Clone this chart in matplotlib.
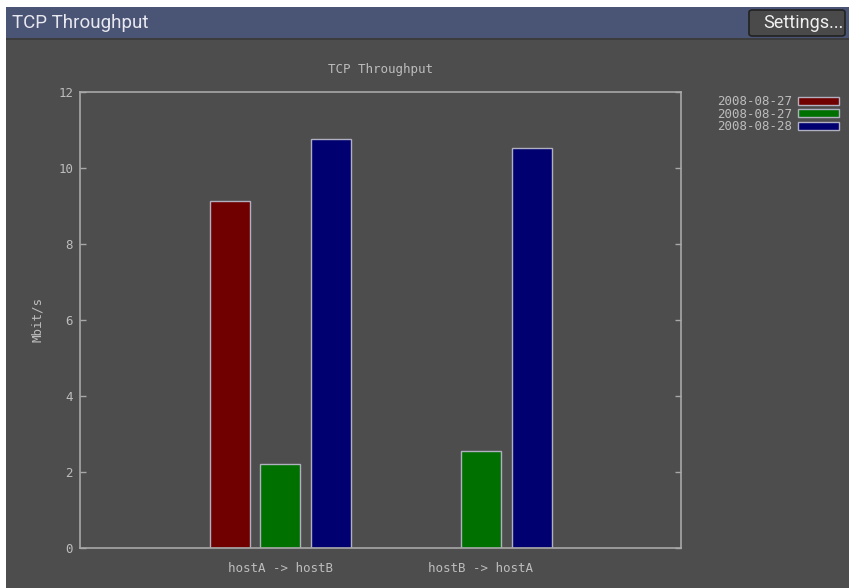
import numpy as np
import matplotlib
matplotlib.use("Agg")
import matplotlib.pyplot as plt
from matplotlib.patches import Rectangle, FancyBboxPatch

# data
categories = ["hostA -> hostB", "hostB -> hostA"]
series_labels = ["2008-08-27", "2008-08-27", "2008-08-28"]
series_values = [
    [9.13, np.nan],
    [2.21, 2.55],
    [10.76, 10.53],
]
series_colors = ["#700000", "#007000", "#000070"]
yticks = [0, 2, 4, 6, 8, 10, 12]

W, H = 849, 588
bg = "#4d4d4d"
fg = "#bdbdbd"
axcol = "#a8a8a8"
mono = "DejaVu Sans Mono"

fig = plt.figure(figsize=(W / 100, H / 100), dpi=100)
fig.patch.set_facecolor("white")

# dark panel and header bar
fig.patches.append(Rectangle((6 / W, 0), 1, (H - 7) / H, transform=fig.transFigure,
                             facecolor=bg, edgecolor="none", zorder=-5))
fig.patches.append(Rectangle((6 / W, (H - 38) / H), 1, 31 / H, transform=fig.transFigure,
                             facecolor="#4a5474", edgecolor="none", zorder=-4))
fig.patches.append(Rectangle((6 / W, (H - 40) / H), 1, 2 / H, transform=fig.transFigure,
                             facecolor="#3c3c3c", edgecolor="none", zorder=-4))
fig.text(12 / W, (H - 23) / H, "TCP Throughput", color="#e8e8f0", fontsize=13.5,
         family="Roboto", va="center", ha="left")
fig.patches.append(FancyBboxPatch((749 / W, (H - 36) / H), 96 / W, 26 / H,
                                  boxstyle="round,pad=0,rounding_size=0.004",
                                  transform=fig.transFigure, facecolor="#4a4a4a",
                                  edgecolor="#222222", linewidth=1.2, zorder=-3))
fig.text(803 / W, (H - 23) / H, "Settings...", color="#f0f0f0", fontsize=13,
         family="Roboto", va="center", ha="center")

ax = fig.add_axes([80 / W, (H - 548) / H, 601 / W, 456 / H])
ax.set_facecolor(bg)

x = np.arange(len(categories))
offsets = [-0.25, 0.0, 0.255]
for vals, lab, col, off in zip(series_values, series_labels, series_colors, offsets):
    ax.bar(x + off, vals, width=0.2, color=col, edgecolor="#b0b0c0",
           linewidth=1.0, label=lab)

ax.set_xlim(-1, 2)
ax.set_ylim(0, 12)
ax.set_yticks(yticks)
ax.set_xticks(x)
ax.set_xticklabels(categories)
ax.tick_params(axis="x", length=0, pad=10, colors=fg, labelsize=9)
ax.tick_params(axis="y", direction="in", length=4, width=1, color=axcol,
               right=True, pad=5, labelcolor=fg, labelsize=9)
for lbl in ax.get_xticklabels() + ax.get_yticklabels():
    lbl.set_family(mono)
for s in ax.spines.values():
    s.set_color(axcol)
    s.set_linewidth(1.2)

ax.set_ylabel("Mbit/s", color=fg, fontsize=9, family=mono, labelpad=10)
ax.set_title("TCP Throughput", color=fg, fontsize=9, family=mono, pad=14)

leg = ax.legend(loc="upper left", bbox_to_anchor=(711 / W, (H - 89) / H),
                bbox_transform=fig.transFigure, frameon=False, markerfirst=False,
                handlelength=3.3, handleheight=0.6, labelspacing=-0.04,
                handletextpad=0.45, borderpad=0, prop={"family": mono, "size": 9})
for t in leg.get_texts():
    t.set_color(fg)

fig.savefig("out.png", dpi=100, facecolor=fig.get_facecolor())
